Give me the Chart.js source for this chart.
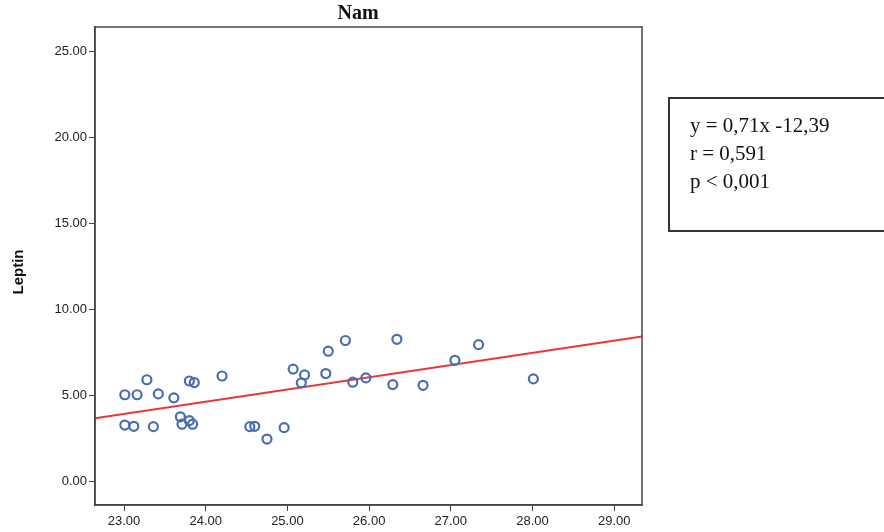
<!DOCTYPE html>
<html>
<head>
<meta charset="utf-8">
<script src="https://cdn.jsdelivr.net/npm/chart.js@4.4.1/dist/chart.umd.min.js"></script>
<style>
  html, body { margin: 0; padding: 0; background: #fff; }
  #wrap { width: 884px; height: 532px; }
</style>
</head>
<body>
<div id="wrap"><canvas id="chart" width="884" height="532"></canvas></div>
<script>
// Données (BMI vs Leptin, Nam)
const bmiValues = [23.01, 23.16, 23.28, 23.42, 23.61, 23.01, 23.12, 23.36, 23.69, 23.71, 23.80,
    23.84, 23.80, 23.86, 24.20, 24.54, 24.60, 24.75, 24.96, 25.07, 25.21, 25.17, 25.47, 25.50,
    25.71, 25.80, 25.96, 26.29, 26.34, 26.66, 27.05, 27.34, 28.01];
const leptinValues = [5.05, 5.05, 5.92, 5.10, 4.87, 3.29, 3.22, 3.20, 3.77, 3.34, 3.55,
    3.34, 5.85, 5.76, 6.14, 3.20, 3.22, 2.48, 3.14, 6.54, 6.20, 5.74, 6.28, 7.58,
    8.20, 5.78, 6.03, 5.64, 8.27, 5.60, 7.05, 7.96, 5.97];

// Droite de régression (extrémités lues)
const fitLineX = [22.645, 29.34];
const fitLineY = [3.69, 8.44];

const xTicks = [23, 24, 25, 26, 27, 28, 29];
const yTicks = [0, 5, 10, 15, 20, 25];

const chartTitle = 'Nam';
const yAxisTitle = 'Leptin';
const statsLines = ['y = 0,71x -12,39', 'r = 0,591', 'p < 0,001'];

const axisColor = '#444';
const tickFont = { family: 'Liberation Sans, Arial, sans-serif', size: 13 };

// Plugin pour le cadre, le titre, l'étiquette Y et l'encadré des statistiques
const decorPlugin = {
    id: 'decor',
    afterDraw(chart) {
        const { ctx, chartArea } = chart;
        ctx.save();
        ctx.strokeStyle = axisColor;
        ctx.lineWidth = 1.5;
        ctx.strokeRect(chartArea.left, chartArea.top, chartArea.right - chartArea.left, chartArea.bottom - chartArea.top);

        ctx.fillStyle = '#111';
        ctx.font = 'bold 20px "Liberation Serif", "Times New Roman", serif';
        ctx.textAlign = 'center';
        ctx.textBaseline = 'middle';
        ctx.fillText(chartTitle, 358, 14);

        ctx.save();
        ctx.translate(19, 272);
        ctx.rotate(-Math.PI / 2);
        ctx.font = 'bold 15px "Liberation Sans", Arial, sans-serif';
        ctx.fillText(yAxisTitle, 0, 0);
        ctx.restore();

        ctx.strokeStyle = '#333';
        ctx.lineWidth = 2;
        ctx.strokeRect(669, 98, 230, 133);
        ctx.fillStyle = '#111';
        ctx.textAlign = 'left';
        ctx.font = '21px "Liberation Serif", "Times New Roman", serif';
        statsLines.forEach((line, i) => {
            ctx.fillText(line, 690, 126 + i * 28);
        });
        ctx.restore();
    }
};

const ctx = document.getElementById('chart').getContext('2d');

new Chart(ctx, {
    type: 'scatter',
    data: {
        datasets: [
            {
                label: 'Leptin',
                data: bmiValues.map((x, i) => ({ x: x, y: leptinValues[i] })),
                pointStyle: 'circle',
                pointRadius: 4.5,
                pointBorderWidth: 2.2,
                pointBorderColor: '#4a6cb3',
                pointBackgroundColor: 'rgba(255,255,255,0)',
                order: 1
            },
            {
                type: 'line',
                label: 'Fit',
                data: fitLineX.map((x, i) => ({ x: x, y: fitLineY[i] })),
                borderColor: '#e8383a',
                borderWidth: 2,
                pointRadius: 0,
                fill: false,
                order: 2
            }
        ]
    },
    options: {
        responsive: false,
        animation: false,
        layout: { padding: { top: 27, right: 242, left: 0, bottom: 0 } },
        plugins: {
            legend: { display: false },
            tooltip: { enabled: false }
        },
        scales: {
            x: {
                type: 'linear',
                min: 22.645,
                max: 29.34,
                afterBuildTicks: (scale) => { scale.ticks = xTicks.map(v => ({ value: v })); },
                afterFit: (scale) => { scale.height = 27; },
                grid: { drawOnChartArea: false, drawTicks: true, tickLength: 6, color: axisColor },
                border: { color: axisColor, width: 1.5 },
                ticks: {
                    font: tickFont,
                    color: '#222',
                    padding: 3,
                    maxRotation: 0,
                    callback: v => v.toFixed(2)
                }
            },
            y: {
                type: 'linear',
                min: -1.35,
                max: 26.4,
                afterBuildTicks: (scale) => { scale.ticks = yTicks.map(v => ({ value: v })); },
                afterFit: (scale) => { scale.width = 95; },
                grid: { drawOnChartArea: false, drawTicks: true, tickLength: 6, color: axisColor },
                border: { color: axisColor, width: 1.5 },
                ticks: {
                    font: tickFont,
                    color: '#222',
                    padding: 2,
                    callback: v => v.toFixed(2)
                }
            }
        }
    },
    plugins: [decorPlugin]
});
</script>
</body>
</html>
